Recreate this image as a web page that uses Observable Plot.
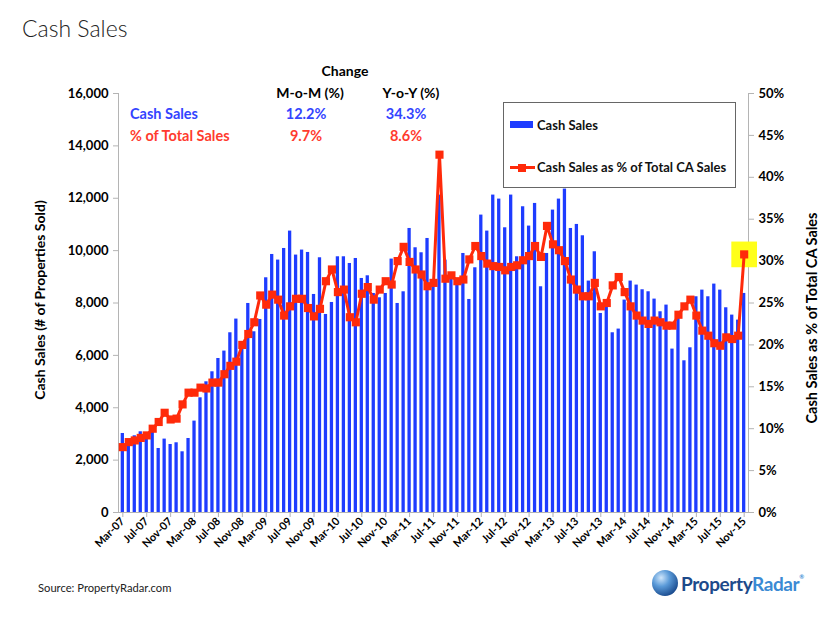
<!DOCTYPE html>
<html><head><meta charset="utf-8">
<script src="https://cdn.jsdelivr.net/npm/d3@7"></script>
<script src="https://cdn.jsdelivr.net/npm/@observablehq/plot@0.6"></script>
<style>
body{margin:0;background:#fff;}
#wrap{position:relative;width:828px;height:618px;overflow:hidden;font-family:Lato,"DejaVu Sans",sans-serif;}
#wrap svg{position:absolute;left:0;top:0;}
.abs{position:absolute;white-space:nowrap;line-height:1;}
.c{transform:translate(-50%,-50%);}
.l{transform:translate(0,-50%);}
.b{font-weight:bold;}
</style></head><body><div id="wrap"></div>
<script>
const months = [
 "Mar-07","Apr-07","May-07","Jun-07","Jul-07","Aug-07","Sep-07","Oct-07","Nov-07","Dec-07",
 "Jan-08","Feb-08","Mar-08","Apr-08","May-08","Jun-08","Jul-08","Aug-08","Sep-08","Oct-08","Nov-08","Dec-08",
 "Jan-09","Feb-09","Mar-09","Apr-09","May-09","Jun-09","Jul-09","Aug-09","Sep-09","Oct-09","Nov-09","Dec-09",
 "Jan-10","Feb-10","Mar-10","Apr-10","May-10","Jun-10","Jul-10","Aug-10","Sep-10","Oct-10","Nov-10","Dec-10",
 "Jan-11","Feb-11","Mar-11","Apr-11","May-11","Jun-11","Jul-11","Aug-11","Sep-11","Oct-11","Nov-11","Dec-11",
 "Jan-12","Feb-12","Mar-12","Apr-12","May-12","Jun-12","Jul-12","Aug-12","Sep-12","Oct-12","Nov-12","Dec-12",
 "Jan-13","Feb-13","Mar-13","Apr-13","May-13","Jun-13","Jul-13","Aug-13","Sep-13","Oct-13","Nov-13","Dec-13",
 "Jan-14","Feb-14","Mar-14","Apr-14","May-14","Jun-14","Jul-14","Aug-14","Sep-14","Oct-14","Nov-14","Dec-14",
 "Jan-15","Feb-15","Mar-15","Apr-15","May-15","Jun-15","Jul-15","Aug-15","Sep-15","Oct-15","Nov-15"
];
const cashSales = [
 3017,2573,2929,3082,2853,3082,2444,2803,2597,2662,
 2318,2826,3490,4380,4991,5373,5881,6164,6863,7386,6450,7982,
 6901,7371,8963,9853,9639,10082,10746,9830,10021,9930,8326,9727,
 7562,8020,9765,9765,9509,9700,8937,9039,8364,8199,8364,9677,
 7982,8428,10846,10109,9918,10464,8800,12121,9639,9100,8800,9891,
 8135,9345,11357,10746,12121,11968,10872,12121,9765,11675,10937,11802,
 8620,9891,11548,11968,12350,10846,11000,10567,8837,9956,7600,7921,
 6863,7004,8112,8837,8684,8505,8429,8149,7665,7920,6240,7500,
 5793,6290,8238,8492,8238,8722,8492,7818,7538,7347,8365
];
const pctOfTotal = [
 7.8,8.4,8.6,8.9,9.2,10.0,10.8,11.9,11.1,11.2,
 12.9,14.3,14.3,14.9,14.8,15.5,15.5,16.5,17.5,18.0,20.0,21.3,
 22.7,25.9,24.8,26.0,25.4,23.5,24.6,25.5,25.5,24.4,23.4,24.3,
 27.6,29.0,26.3,26.6,23.3,22.7,26.1,26.9,25.4,26.6,27.6,27.2,
 30.0,31.7,29.9,29.0,28.4,27.0,27.4,42.7,27.9,28.3,27.6,27.8,
 30.2,31.8,30.6,29.7,29.4,29.3,28.9,29.3,29.5,30.1,30.6,31.8,
 30.5,34.2,32.0,31.3,30.0,27.8,26.6,25.8,25.8,27.4,24.6,25.0,
 27.1,28.1,26.3,24.6,23.5,22.9,22.5,22.9,22.7,22.3,22.3,23.6,
 24.6,25.4,23.5,21.7,21.1,20.2,19.9,20.9,20.7,21.1,30.8
];
const xTickLabels = ["Mar-07","Jul-07","Nov-07","Mar-08","Jul-08","Nov-08","Mar-09","Jul-09","Nov-09",
 "Mar-10","Jul-10","Nov-10","Mar-11","Jul-11","Nov-11","Mar-12","Jul-12","Nov-12","Mar-13","Jul-13","Nov-13",
 "Mar-14","Jul-14","Nov-14","Mar-15","Jul-15","Nov-15"];
const leftTicks = [0,2000,4000,6000,8000,10000,12000,14000,16000];
const rightTicks = [0,5,10,15,20,25,30,35,40,45,50];
const changeRows = ["Cash Sales","% of Total Sales"];
const changeMoM = ["12.2%","9.7%"];
const changeYoY = ["34.3%","8.6%"];
const highlightMonth = ["Nov-15"];

const blue = "#1e3cff", red = "#ff2a0a", rowColors = ["#3344ff","#ff3b2e"];
const leftMax = 16000, rightMax = 50, k = leftMax / rightMax;

const table = months.map((m, i) => ({month: m, sales: cashSales[i], pct: pctOfTotal[i]}));
const hl = table.filter(d => highlightMonth.includes(d.month));

const chart = Plot.plot({
  width: 828, height: 618,
  marginTop: 93, marginBottom: 106, marginLeft: 118, marginRight: 80,
  style: {fontFamily: "Lato, 'DejaVu Sans', sans-serif", background: "transparent", color: "#000"},
  x: {type: "band", domain: months, padding: 0.45, label: null, axis: null},
  y: {domain: [0, leftMax], label: null, axis: null},
  marks: [
    Plot.barY(table, {x: "month", y: "sales", fill: blue}),
    Plot.frame({anchor: "left", stroke: "#b4b4b4"}),
    Plot.frame({anchor: "right", stroke: "#b4b4b4"}),
    Plot.frame({anchor: "bottom", stroke: "#b4b4b4"}),
    Plot.axisY({ticks: leftTicks, tickFormat: d3.format(","), tickSize: 5, tickPadding: 5,
      stroke: "#b4b4b4", fill: "#000", fontSize: 13, fontWeight: "bold", label: null}),
    Plot.axisY({anchor: "right", ticks: rightTicks.map(t => t * k), tickFormat: d => Math.round(d / k) + "%",
      tickSize: 5, tickPadding: 5, stroke: "#b4b4b4", fill: "#000", fontSize: 13, fontWeight: "bold", label: null}),
    Plot.axisX({ticks: xTickLabels, tickRotate: -45, tickSize: 5, tickPadding: 2,
      stroke: "#b4b4b4", fill: "#000", fontSize: 11, fontWeight: "bold", label: null}),
    Plot.dot(hl, {x: "month", y: d => d.pct * k, symbol: "square", r: 14.5, fill: "#ffff1a", stroke: null}),
    Plot.line(table, {x: "month", y: d => d.pct * k, stroke: red, strokeWidth: 3}),
    Plot.dot(table, {x: "month", y: d => d.pct * k, symbol: "square", r: 4.6, fill: red, stroke: null})
  ]
});

const wrap = document.getElementById("wrap");
wrap.appendChild(chart);

function addText(txt, x, y, cls, css) {
  const d = document.createElement("div");
  d.className = "abs " + cls;
  d.textContent = txt;
  d.style.left = x + "px"; d.style.top = y + "px";
  Object.assign(d.style, css || {});
  wrap.appendChild(d);
  return d;
}

// Title
addText("Cash Sales", 22, 28, "l", {fontSize: "23px", fontWeight: "300", color: "#222"});

// Change table
addText("Change", 345, 71, "c b", {fontSize: "14px"});
addText("M-o-M (%)", 310, 93, "c b", {fontSize: "14px"});
addText("Y-o-Y (%)", 411, 93, "c b", {fontSize: "14px"});
changeRows.forEach((r, i) => {
  const y = 114 + i * 21.5;
  addText(r, 130, y, "l b", {fontSize: "14.5px", color: rowColors[i]});
  addText(changeMoM[i], 306, y, "c b", {fontSize: "14.5px", color: rowColors[i]});
  addText(changeYoY[i], 406, y, "c b", {fontSize: "14.5px", color: rowColors[i]});
});

// Legend box
const box = document.createElement("div");
box.className = "abs";
Object.assign(box.style, {left: "503px", top: "102px", width: "231px", height: "84px", border: "1px solid #666", background: "#fff"});
wrap.appendChild(box);
const sw1 = document.createElement("div");
sw1.className = "abs";
Object.assign(sw1.style, {left: "510px", top: "121px", width: "23px", height: "7px", background: blue});
wrap.appendChild(sw1);
addText("Cash Sales", 537, 125, "l b", {fontSize: "13px", color: "#111"});
const sw2 = document.createElement("div");
sw2.className = "abs";
Object.assign(sw2.style, {left: "510px", top: "166px", width: "25px", height: "3px", background: red});
wrap.appendChild(sw2);
const sw3 = document.createElement("div");
sw3.className = "abs";
Object.assign(sw3.style, {left: "518px", top: "163.5px", width: "8px", height: "8px", background: red});
wrap.appendChild(sw3);
addText("Cash Sales as % of Total CA Sales", 537, 167, "l b", {fontSize: "13px", color: "#111"});

// Axis titles
addText("Cash Sales (# of Properties Sold)", 40, 300, "b", {fontSize: "14px", transform: "translate(-50%,-50%) rotate(-90deg)"});
addText("Cash Sales as % of Total CA Sales", 812, 318, "b", {fontSize: "14.5px", transform: "translate(-50%,-50%) rotate(-90deg)"});

// Footer
addText("Source: PropertyRadar.com", 38, 588, "l", {fontSize: "11.2px", color: "#222"});
const globe = document.createElement("div");
globe.className = "abs";
Object.assign(globe.style, {left: "652px", top: "570px", width: "26px", height: "26px", borderRadius: "50%",
  background: "radial-gradient(circle at 35% 30%, #cfe6fb 0%, #5a9ad8 35%, #1d4f92 75%, #0f2f60 100%)"});
wrap.appendChild(globe);
const logo = addText("", 681, 583, "l b", {fontSize: "19px", letterSpacing: "-0.4px"});
logo.innerHTML = '<span style="color:#1d4a8a">Property</span><span style="color:#3a8ad4">Radar</span><span style="font-size:6px;color:#3a8ad4;vertical-align:top">®</span>';
</script></body></html>
